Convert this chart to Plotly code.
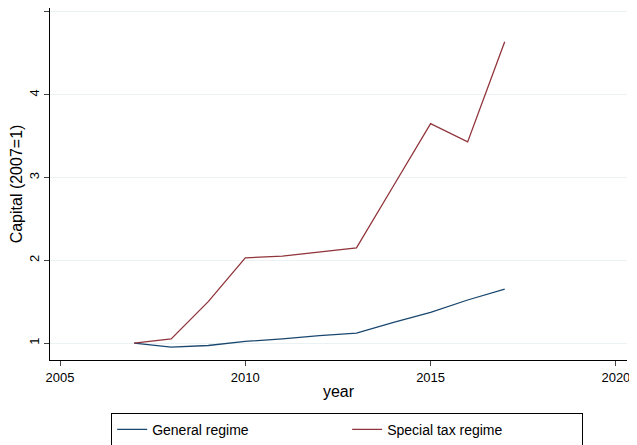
import plotly.graph_objects as go

years = [2007, 2008, 2009, 2010, 2011, 2012, 2013, 2014, 2015, 2016, 2017]
general = [1.0, 0.95, 0.97, 1.02, 1.05, 1.09, 1.12, 1.25, 1.37, 1.52, 1.65]
special = [1.0, 1.05, 1.5, 2.03, 2.05, 2.10, 2.15, 2.9, 3.65, 3.43, 4.64]

fig = go.Figure()
fig.add_trace(go.Scatter(x=years, y=general, mode="lines", name="General regime",
                         line=dict(color="#1a476f", width=1.3)))
fig.add_trace(go.Scatter(x=years, y=special, mode="lines", name="Special tax regime",
                         line=dict(color="#90353b", width=1.3)))
fig.update_layout(
    width=637, height=445, paper_bgcolor="white", plot_bgcolor="white",
    margin=dict(l=42, r=18, t=0, b=93),
    font=dict(family="Liberation Sans, Arial", size=13, color="black"),
    xaxis=dict(range=[2004.73, 2020.3], tickvals=[2005, 2010, 2015, 2020],
               showgrid=False, showline=True, linecolor="black", ticks="outside",
               ticklen=5, zeroline=False, automargin=False,
               title=dict(text="year", standoff=2)),
    yaxis=dict(range=[0.795, 5.048], tickvals=[1, 2, 3, 4, 5], tickangle=-90,
               showgrid=True, gridcolor="#eaf2f3", showline=True, linecolor="black",
               ticks="outside", ticklen=5, zeroline=False, automargin=False,
               title=dict(text="Capital (2007=1)", standoff=4)),
    legend=dict(orientation="h", x=0.515, xanchor="center", y=-0.15, yanchor="top",
                bordercolor="black", borderwidth=1, entrywidth=190,
                font=dict(size=14)),
)
fig.write_html("out.html")
